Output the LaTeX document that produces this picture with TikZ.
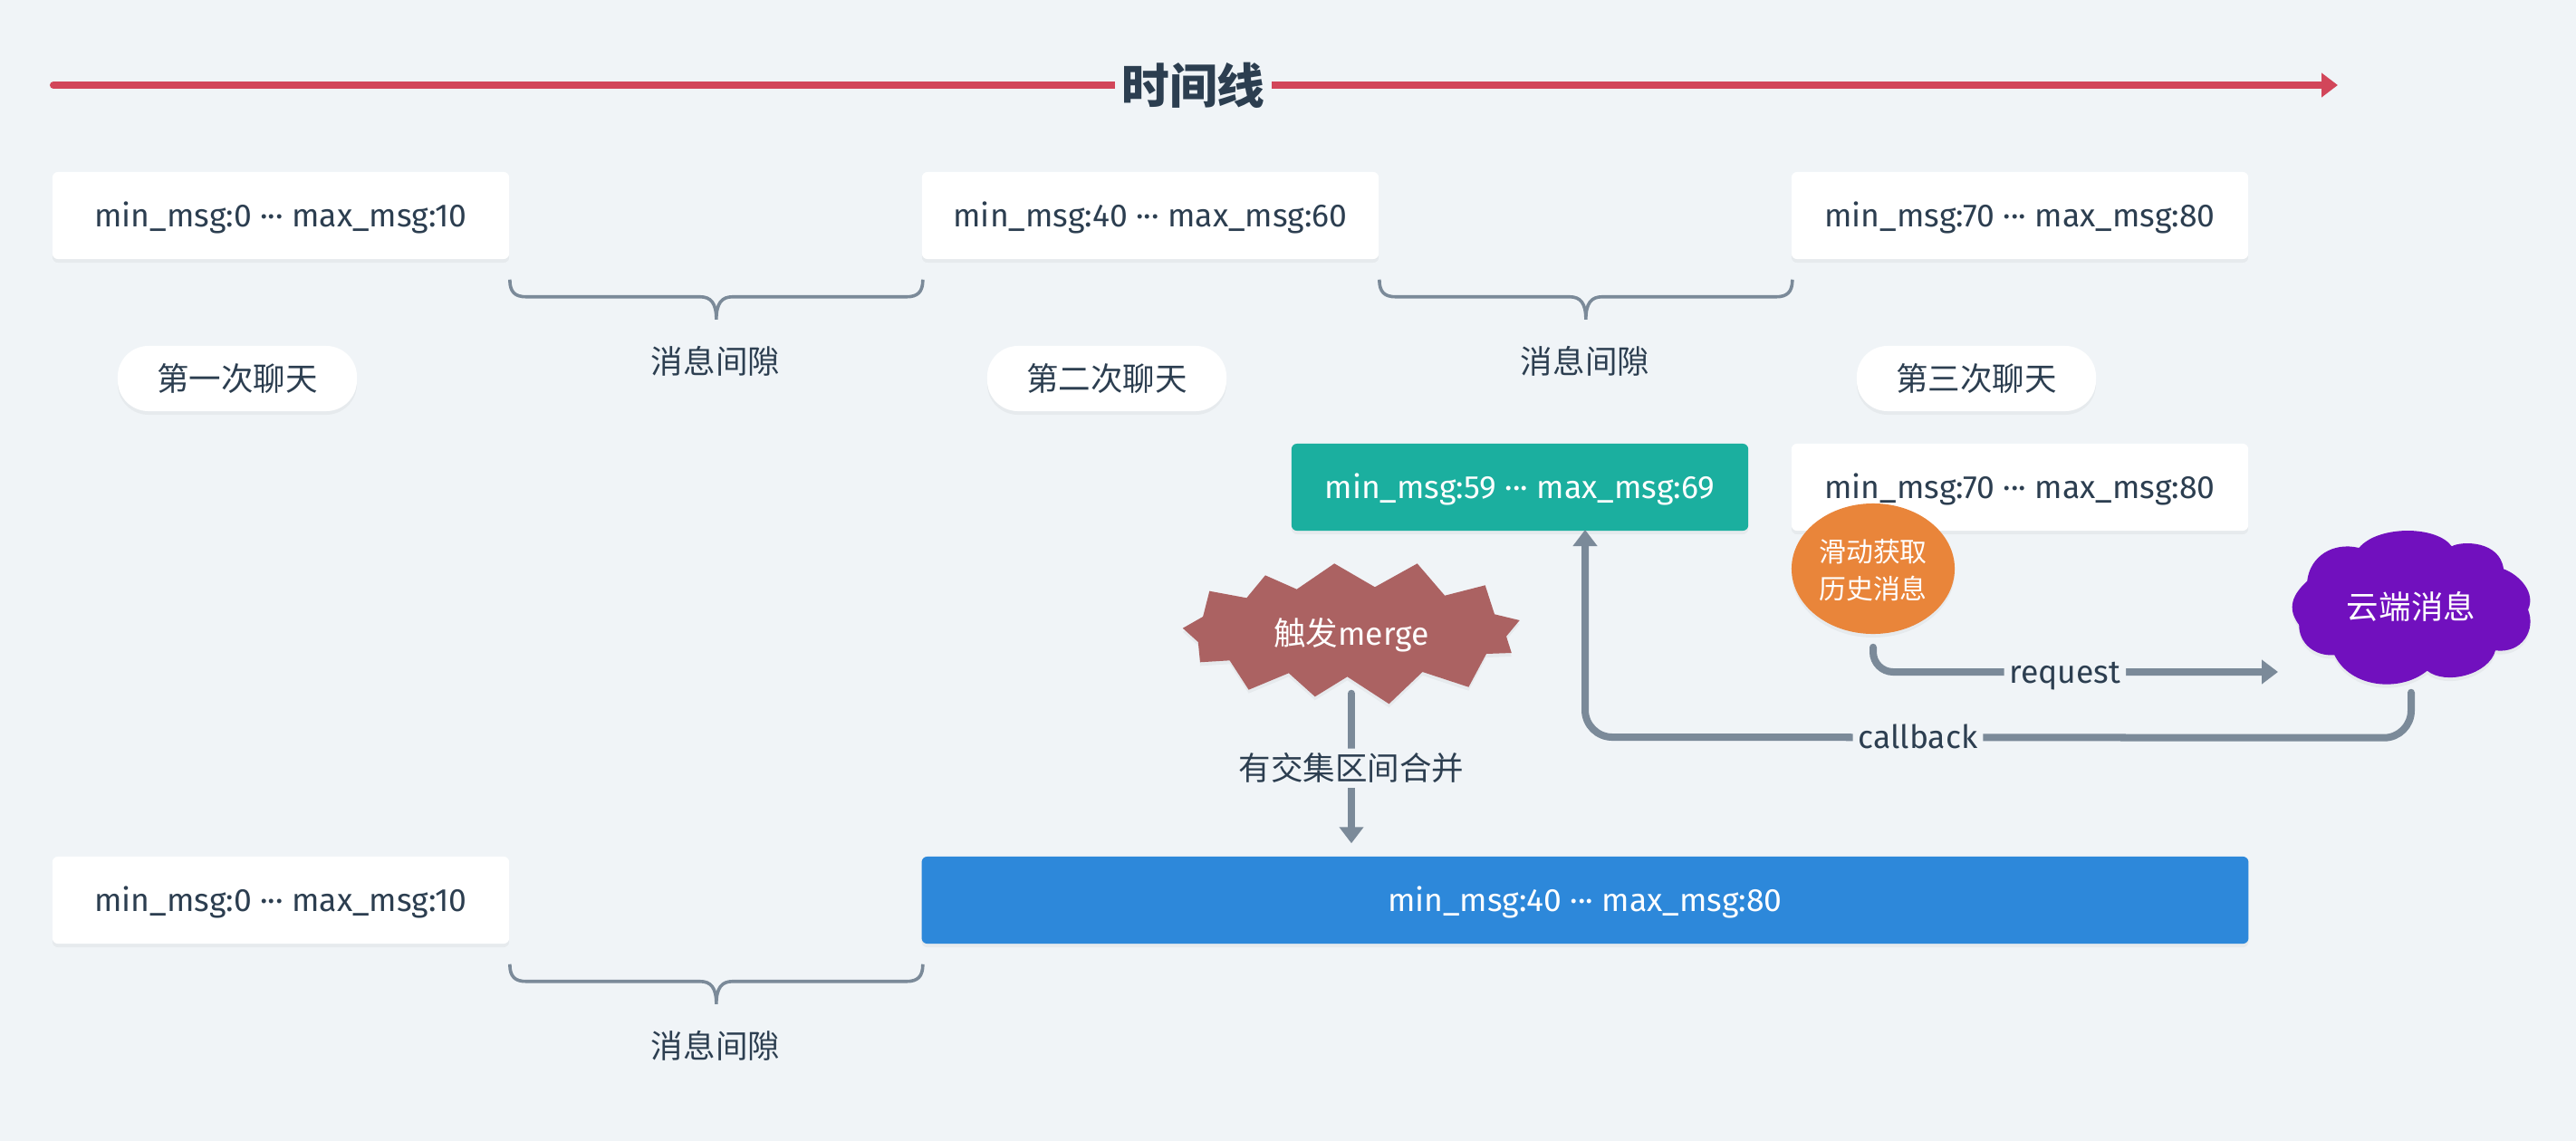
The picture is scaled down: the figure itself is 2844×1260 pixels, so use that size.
\documentclass[tikz,border=0pt]{standalone}
\usepackage{fontspec}
\setmainfont{Fira Sans}
\newfontfamily\cjk{Noto Sans CJK SC}
\usepackage{xcolor}
\usetikzlibrary{arrows.meta, positioning, shapes.geometric, shadows}
\definecolor{pagebg}{HTML}{F0F4F7}
\definecolor{ink}{HTML}{2C3E50}
\definecolor{timeRed}{HTML}{D2465A}
\definecolor{linkGray}{HTML}{7B8A99}
\definecolor{mergeTeal}{HTML}{1BAF9F}
\definecolor{mergeBlue}{HTML}{2D88DA}
\definecolor{burstRed}{HTML}{AB6262}
\definecolor{fetchOrange}{HTML}{E9853A}
\definecolor{cloudPurple}{HTML}{7110BE}

\begin{document}
\begin{tikzpicture}[
  x=0.01cm, y=-0.01cm,
  every node/.style={font=\fontsize{10.1pt}{12pt}\selectfont, color=ink},
  softshadow/.style={drop shadow={shadow xshift=0pt, shadow yshift=-0.04cm, opacity=0.04, fill=black}},
  msgbox/.style={
    rectangle, rounded corners=0.06cm, fill=white, inner sep=0pt,
    minimum width=5.04cm, minimum height=0.96cm, text height=0.33cm, text depth=0.08cm, softshadow
  },
  colorbox/.style={msgbox, fill=#1, text=white},
  chatpill/.style={
    rectangle, rounded corners=0.34cm, fill=white, inner sep=0pt,
    minimum width=2.64cm, minimum height=0.72cm, softshadow
  },
  gaptext/.style={inner sep=0pt},
  gapcurve/.style={
    draw=linkGray, line width=0.036cm,
    to path={(\tikztostart) .. controls +(0,14) and +(-12,0) .. ++(18,19) -- ++(192,0)
      .. controls +(12,0) and +(0,-18) .. ++(18,25) .. controls +(0,-18) and +(-12,0) .. ++(18,-25)
      -- ++(192,0) .. controls +(12,0) and +(0,14) .. ++(18,-19)}
  },
  linetext/.style={fill=pagebg, rounded corners=0.04cm, inner xsep=0.06cm, inner ysep=0.05cm},
  flowline/.style={
    draw=linkGray, line width=0.08cm, line cap=round,
    -{Triangle[length=0.18cm, width=0.26cm]}
  },
  burstshape/.style={fill=burstRed, softshadow}
]
% page
\fill[pagebg] (0,0) rectangle (2844,1260);

% time line
\coordinate (tlstart) at (59,94);
\coordinate (tlend) at (2581,94);
\draw[flowline, draw=timeRed, fill=timeRed] (tlstart) -- node[fill=pagebg, inner sep=0.07cm, pos=0.499] (tltitle) {\fontsize{15pt}{18pt}\selectfont\bfseries\cjk 时间线} (tlend);

% first row
\node[msgbox] (rowa1) at (310,238) {min\_msg:0 ··· max\_msg:10};
\node[msgbox] (rowa2) at (1270,238) {min\_msg:40 ··· max\_msg:60};
\node[msgbox] (rowa3) at (2230,238) {min\_msg:70 ··· max\_msg:80};

% gaps of the first row
\draw[gapcurve] ([yshift=-0.22cm]rowa1.south east) to ([yshift=-0.22cm]rowa2.south west);
\draw[gapcurve] ([yshift=-0.22cm]rowa2.south east) to ([yshift=-0.22cm]rowa3.south west);
\node[gaptext] (gapa1) at (790,399) {\cjk 消息间隙};
\node[gaptext] (gapa2) at (1750,399) {\cjk 消息间隙};

% chats
\node[chatpill] (chat1) at (262,418) {\cjk 第一次聊天};
\node[chatpill] (chat2) at (1222,418) {\cjk 第二次聊天};
\node[chatpill] (chat3) at (2182,418) {\cjk 第三次聊天};

% second row
\node[colorbox=mergeTeal] (rowb1) at (1678,538) {min\_msg:59 ··· max\_msg:69};
\node[msgbox] (rowb2) at (2230,538) {min\_msg:70 ··· max\_msg:80};

% fetch
\node[ellipse, fill=fetchOrange, inner sep=0pt, minimum width=1.8cm, minimum height=1.44cm, softshadow] (fetch) at (2068,628) {};
\node[align=center, text=white, inner sep=0pt, font=\fontsize{8.5pt}{11.6pt}\selectfont] (fetchtext) at (2068,630) {\cjk 滑动获取\\\cjk 历史消息};

% burst
\path[burstshape] (1473.2,622.3) -- (1517.9,648.3) -- (1564.7,622.3) -- (1595.1,657.7) -- (1639.7,646.3) -- (1650,678.3)
  -- (1677.7,685) -- (1663,702.7) -- (1668.8,721) -- (1641,722) -- (1621.4,758.7) -- (1570.5,742) -- (1533.5,777.3)
  -- (1487.5,747.3) -- (1451.8,769.3) -- (1422.8,743.3) -- (1378.6,761.7) -- (1357.6,729.3) -- (1325,731.3) -- (1322.8,709)
  -- (1305.8,693.7) -- (1328.1,681) -- (1335.3,652.7) -- (1376.3,660.3) -- (1396.9,635.3) -- (1431.7,650.7) -- cycle;
\node[text=white, inner sep=0pt, minimum width=3.4cm, minimum height=1.3cm, text height=0.33cm, text depth=0.08cm] (burst) at (1492,700) {{\cjk 触发}merge};

% cloud
\path[fill=cloudPurple, softshadow] (2604.4,605) .. controls (2625,580) and (2690,580) .. (2706.8,603.3)
  .. controls (2718,597) and (2760,597) .. (2764,628.3)
  .. controls (2782,635) and (2800,655) .. (2791,673.3)
  .. controls (2800,695) and (2785,722) .. (2755,718.3)
  .. controls (2748,745) and (2700,757) .. (2679.7,740.7)
  .. controls (2650,765) and (2595,760) .. (2577.3,723.3)
  .. controls (2555,725) and (2538,710) .. (2538.2,690)
  .. controls (2527,675) and (2527,660) .. (2547.2,641.7)
  .. controls (2550,615) and (2575,598) .. (2604.4,605) -- cycle;
\node[text=white, inner sep=0pt, minimum width=2.64cm, minimum height=1.68cm] (cloud) at (2662,670) {\cjk 云端消息};

% merged row
\node[msgbox] (rowc1) at (310,994) {min\_msg:0 ··· max\_msg:10};
\node[colorbox=mergeBlue, minimum width=14.64cm] (rowc2) at (1750,994) {min\_msg:40 ··· max\_msg:80};
\draw[gapcurve] ([yshift=-0.22cm]rowc1.south east) to ([yshift=-0.22cm]rowc1.south east -| rowc2.south west);
\node[gaptext] (gapc1) at (790,1155) {\cjk 消息间隙};

% connectors
\coordinate (reqend) at (2515,742);
\coordinate (cbend) at (1750,585);
\draw[flowline, shorten >=0.14cm] (burst.south) -- node[linetext, pos=0.46] (mergetext) {\cjk 有交集区间合并} (burst.south |- rowc2.north);
\draw[flowline, rounded corners=0.22cm, shorten <=0.14cm] (fetch.south) |- node[linetext, pos=0.737, text height=0.33cm, text depth=0.08cm] (reqtext) {request} (reqend);
\draw[flowline, rounded corners=0.3cm, shorten <=0.1cm] (cloud.south) -- ++(0,60) -- node[linetext, pos=0.597, text height=0.33cm, text depth=0.08cm] (cbtext) {callback} (1750,814) -- (cbend);
\end{tikzpicture}
\end{document}
